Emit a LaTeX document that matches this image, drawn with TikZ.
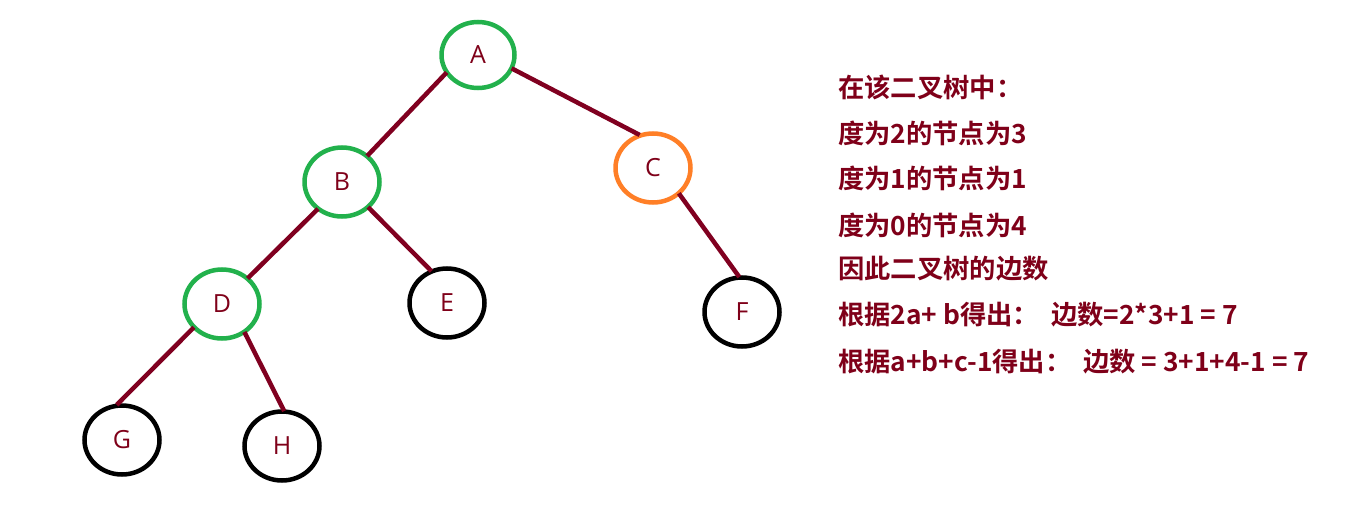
\documentclass[tikz,border=0pt]{standalone}
\usepackage{fontspec}
\usetikzlibrary{shapes.geometric}
\setmainfont{Open Sans}
\newfontfamily\cjk{Noto Sans CJK SC}[BoldFont={* Bold}]
\definecolor{edgec}{HTML}{800020}
\definecolor{txtc}{HTML}{7F0019}
\definecolor{grn}{HTML}{22B14C}
\definecolor{org}{HTML}{FF7F27}
\begin{document}
\begin{tikzpicture}[x=1pt,y=-1pt,
  vert/.style={ellipse, draw, line width=4.5pt, fill=white, inner sep=0pt,
    minimum width=75pt, minimum height=69pt, text=txtc,
    font=\fontsize{25}{28}\selectfont},
  green/.style={draw=grn},
  orange/.style={draw=org},
  black/.style={draw=black},
  link/.style={draw=edgec, line width=4.5pt, shorten <=-2pt, shorten >=-2pt},
  info/.style={anchor=west, inner sep=0pt, text=txtc,
    font=\cjk\bfseries\fontsize{26.3}{30}\selectfont}]
\useasboundingbox (0,0) rectangle (1365,516);
\node[vert, green, minimum width=73pt, minimum height=66pt] (A) at (478,55) {A};
\node[vert, green] (B) at (342,182) {B};
\node[vert, orange] (C) at (653,168) {C};
\node[vert, green] (D) at (222,304) {D};
\node[vert, black] (E) at (447,303) {E};
\node[vert, black] (F) at (742,312) {F};
\node[vert, black] (G) at (122,440) {G};
\node[vert, black] (H) at (282,446) {H};
\draw[link] (A.210) -- (B.46);
\draw[link] (A.338) -- (C.114);
\draw[link] (B.228) -- (D.45);
\draw[link] (B.316) -- (E.117);
\draw[link] (C.315) -- (F.96);
\draw[link] (D.220) -- (G.96);
\draw[link] (D.308) -- (H.88);
\node[info] (t1) at (838,87) {在该二叉树中：};
\node[info] (t2) at (838,133) {度为2的节点为3};
\node[info] (t3) at (838,178) {度为1的节点为1};
\node[info] (t4) at (838,225) {度为0的节点为4};
\node[info] (t5) at (838,269) {因此二叉树的边数};
\node[info] (t6) at (838,315) {根据2a+ b得出：\ \ 边数=2*3+1 = 7};
\node[info] (t7) at (838,362) {根据a+b+c-1得出：\ \ 边数 = 3+1+4-1 = 7};
\end{tikzpicture}
\end{document}
